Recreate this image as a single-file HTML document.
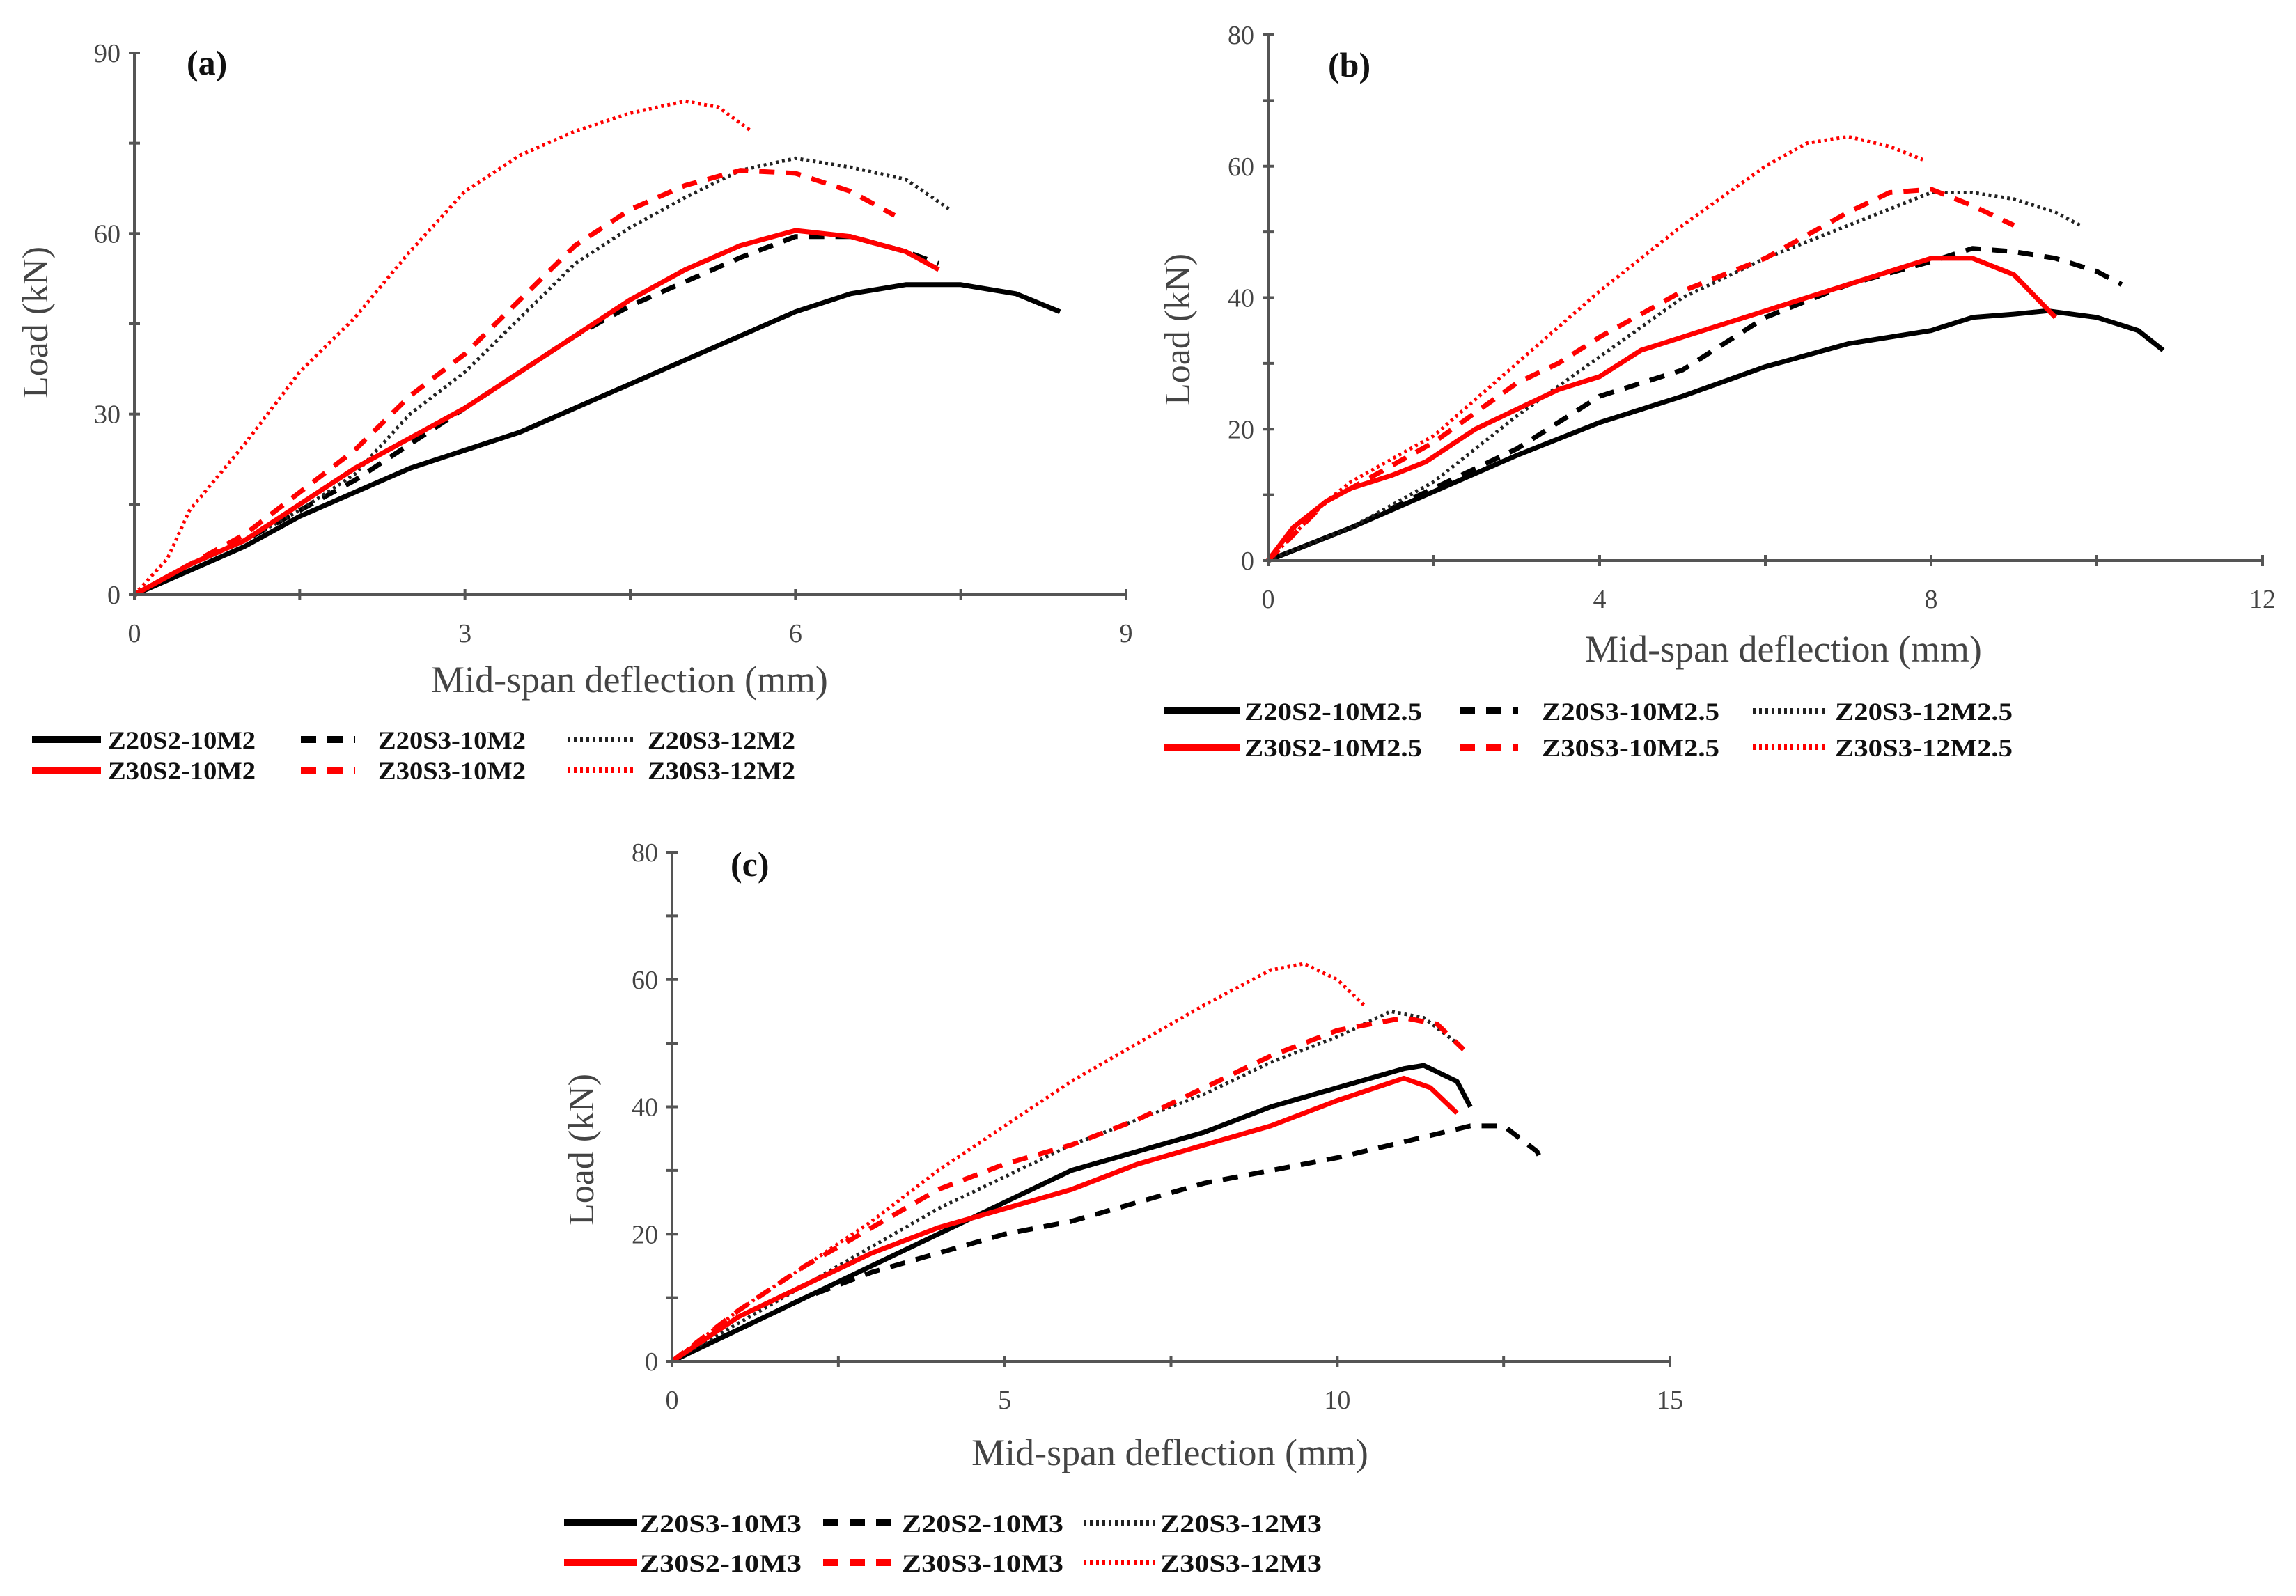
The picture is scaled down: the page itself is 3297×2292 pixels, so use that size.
<!DOCTYPE html>
<html><head><meta charset="utf-8">
<style>
html,body{margin:0;padding:0;background:#fff;}
svg{display:block;}
text{font-family:"Liberation Serif","Times New Roman",serif;}
</style></head>
<body>
<svg id="fig" xmlns="http://www.w3.org/2000/svg" width="3297" height="2292" viewBox="0 0 3297 2292">
<rect width="3297" height="2292" fill="#fff"/>
</svg>
<script>
// ---------- Panel (a) data ----------
const aTicksX = [0, 3, 6, 9];
const aTicksY = [0, 30, 60, 90];
const aLabels = ["Z20S2-10M2","Z20S3-10M2","Z20S3-12M2","Z30S2-10M2","Z30S3-10M2","Z30S3-12M2"];
const a1x = [0,0.5,1,1.5,2,2.5,3,3.5,4,4.5,5,5.5,6,6.5,7,7.5,8,8.4];
const a1y = [0,4,8,13,17,21,24,27,31,35,39,43,47,50,51.5,51.5,50,47];
const a2x = [0,0.5,1,1.5,2,2.5,3,3.5,4,4.5,5,5.5,6,6.5,7,7.3];
const a2y = [0,5,9,14,19,25,31,37,43,48,52,56,59.5,59.5,57,55];
const a3x = [0,0.5,1,1.5,2,2.5,3,3.5,4,4.5,5,5.5,6,6.5,7,7.4];
const a3y = [0,5,9,14,20,30,37,46,55,61,66,70.5,72.5,71,69,64];
const a4x = [0,0.5,1,1.5,2,2.5,3,3.5,4,4.5,5,5.5,6,6.5,7,7.3];
const a4y = [0,5,9,15,21,26,31,37,43,49,54,58,60.5,59.5,57,54];
const a5x = [0,0.5,1,1.5,2,2.5,3,3.5,4,4.5,5,5.5,6,6.5,6.9];
const a5y = [0,5,10,17,24,33,40,49,58,64,68,70.5,70,67,63];
const a6x = [0,0.3,0.5,1,1.5,2,2.5,3,3.5,4,4.5,5,5.3,5.6];
const a6y = [0,6,14,25,37,46,57,67,73,77,80,82,81,77];

// ---------- Panel (b) data ----------
const bTicksX = [0, 4, 8, 12];
const bTicksY = [0, 20, 40, 60, 80];
const bLabels = ["Z20S2-10M2.5","Z20S3-10M2.5","Z20S3-12M2.5","Z30S2-10M2.5","Z30S3-10M2.5","Z30S3-12M2.5"];
const b1x = [0,1,2,3,4,5,6,7,8,8.5,9,9.4,10,10.5,10.8];
const b1y = [0,5,10.5,16,21,25,29.5,33,35,37,37.5,38,37,35,32];
const b2x = [0,1,2,3,4,5,6,7,8,8.5,9,9.5,10,10.3];
const b2y = [0,5,11,17,25,29,37,42,45.5,47.5,47,46,44,42];
const b3x = [0,1,2,3,4,5,6,7,8,8.5,9,9.5,9.8];
const b3y = [0,5,12,22,31,40,46,51,56,56,55,53,51];
const b4x = [0,0.3,0.7,1,1.5,1.9,2.5,3,3.5,4,4.5,5,6,7,8,8.5,9,9.5];
const b4y = [0,5,9,11,13,15,20,23,26,28,32,34,38,42,46,46,43.5,37];
const b5x = [0,0.7,1,2,3,3.5,4,5,6,7,7.5,8,8.5,9];
const b5y = [0,9,11,18,27,30,34,41,46,53,56,56.5,54,51];
const b6x = [0,0.7,1,2,3,4,5,6,6.5,7,7.5,7.9];
const b6y = [0,9,12,19,30,41,51,60,63.5,64.5,63,61];

// ---------- Panel (c) data ----------
const cTicksX = [0, 5, 10, 15];
const cTicksY = [0, 20, 40, 60, 80];
const cLabels = ["Z20S3-10M3","Z20S2-10M3","Z20S3-12M3","Z30S2-10M3","Z30S3-10M3","Z30S3-12M3"];
const c1x = [0,1,2,3,4,5,6,7,8,9,10,11,11.3,11.8,12];
const c1y = [0,5,10,15,20,25,30,33,36,40,43,46,46.5,44,40];
const c2x = [0,1,2,3,4,5,6,7,8,9,10,11,12,12.5,13,13.1];
const c2y = [0,5,10,14,17,20,22,25,28,30,32,34.5,37,37,33,31];
const c3x = [0,1,2,3,4,5,6,7,8,9,10,10.8,11.3,11.8];
const c3y = [0,6,12,18,24,29,34,38,42,47,51,55,54,50];
const c4x = [0,1,2,3,4,5,6,7,8,9,10,11,11.4,11.8];
const c4y = [0,7,12,17,21,24,27,31,34,37,41,44.5,43,39];
const c5x = [0,1,2,3,4,5,6,7,8,9,10,11,11.5,11.9];
const c5y = [0,8,15,21,27,31,34,38,43,48,52,54,53,49];
const c6x = [0,1,2,3,4,5,6,7,8,9,9.5,10,10.4];
const c6y = [0,8,15,22,30,37,44,50,56,61.5,62.5,60,56];

const NS = "http://www.w3.org/2000/svg";
const svg = document.getElementById("fig");
const STY = [
  {c:"#000", d:"", w:7},
  {c:"#000", d:"22 16", w:7},
  {c:"#222", d:"4 5", w:5},
  {c:"#ff0000", d:"", w:7},
  {c:"#ff0000", d:"22 16", w:7},
  {c:"#ff0000", d:"4 5", w:5}
];
function mk(tag, attrs, parent){
  const e = document.createElementNS(NS, tag);
  for (const k in attrs) e.setAttribute(k, attrs[k]);
  (parent||svg).appendChild(e);
  return e;
}
function panel(cfg){
  const g = mk("g", {});
  
  
  const xMax = cfg.tx[cfg.tx.length-1], yMax = cfg.ty[cfg.ty.length-1];
  const X = v => cfg.x0 + (cfg.x1 - cfg.x0) * v / xMax;
  const Y = v => cfg.y0 - (cfg.y0 - cfg.y1) * v / yMax;
  cfg.series.forEach((s, i) => {
    let d = "";
    s[0].forEach((xv, j) => { d += (j ? "L" : "M") + X(xv).toFixed(1) + "," + Y(s[1][j]).toFixed(1); });
    const p = mk("path", {d:d, fill:"none", stroke:STY[i].c, "stroke-width":STY[i].w, "stroke-dasharray":STY[i].d, "stroke-linejoin":"round"}, g);
    
    
  });
  const ax = mk("line", {x1:cfg.x0, y1:cfg.y0, x2:cfg.x1, y2:cfg.y0, stroke:"#555", "stroke-width":4}, g);
  
  
  const ay = mk("line", {x1:cfg.x0, y1:cfg.y0, x2:cfg.x0, y2:cfg.y1, stroke:"#555", "stroke-width":4}, g);
  
  
  const sx = cfg.tx[1] - cfg.tx[0], sy = cfg.ty[1] - cfg.ty[0];
  for (let v = 0; v <= xMax + 1e-9; v += sx/2){
    mk("line", {x1:X(v), y1:cfg.y0-8, x2:X(v), y2:cfg.y0+8, stroke:"#555", "stroke-width":4}, g);
  }
  for (let v = 0; v <= yMax + 1e-9; v += sy/2){
    mk("line", {x1:cfg.x0-8, y1:Y(v), x2:cfg.x0+8, y2:Y(v), stroke:"#555", "stroke-width":4}, g);
  }
  cfg.tx.forEach(v => {
    const t = mk("text", {x:X(v), y:cfg.y0+68, "text-anchor":"middle", "font-size":38, fill:"#444"}, g);
    t.textContent = v;
    
    
  });
  cfg.ty.forEach(v => {
    const t = mk("text", {x:cfg.x0-20, y:Y(v)+13, "text-anchor":"end", "font-size":38, fill:"#444"}, g);
    t.textContent = v;
    
    
  });
  const pl = mk("text", {x:cfg.lx, y:cfg.ly, "font-size":50, "font-weight":"bold", fill:"#111"}, g);
  pl.textContent = "(" + cfg.id + ")";
  
  
  const xt = mk("text", {x:cfg.xtx, y:cfg.xty, "text-anchor":"middle", "font-size":54, fill:"#444"}, g);
  xt.textContent = "Mid-span deflection (mm)";
  
  
  const yt = mk("text", {x:0, y:0, "text-anchor":"middle", "font-size":52, fill:"#444", transform:"translate(" + cfg.ytx + "," + cfg.yty + ") rotate(-90)"}, g);
  yt.textContent = "Load (kN)";
  
  
  cfg.labels.forEach((lab, i) => {
    const col = i % 3, row = Math.floor(i / 3);
    const yy = cfg.legRows[row];
    const c = cfg.legCols[col];
    const le = mk("g", {}, g);
    
    
    mk("line", {x1:c[0], y1:yy, x2:c[1], y2:yy, stroke:STY[i].c, "stroke-width":STY[i].w + 3, "stroke-dasharray":STY[i].d}, le);
    const t = mk("text", {x:c[2], y:yy+13, "font-size":36, "font-weight":"bold", fill:"#111", textLength:cfg.legW, lengthAdjust:"spacingAndGlyphs"}, le);
    t.textContent = lab;
  });
}
panel({id:"a", x0:193, x1:1617, y0:854, y1:76, tx:aTicksX, ty:aTicksY, labels:aLabels,
  series:[[a1x,a1y],[a2x,a2y],[a3x,a3y],[a4x,a4y],[a5x,a5y],[a6x,a6y]],
  lx:268, ly:107, xtx:904, xty:994, ytx:68, yty:463,
  legRows:[1062,1106], legCols:[[46,145,155],[432,510,543],[815,914,930]], legW:212});
panel({id:"b", x0:1821, x1:3249, y0:805, y1:50, tx:bTicksX, ty:bTicksY, labels:bLabels,
  series:[[b1x,b1y],[b2x,b2y],[b3x,b3y],[b4x,b4y],[b5x,b5y],[b6x,b6y]],
  lx:1907, ly:110, xtx:2561, xty:950, ytx:1708, yty:473,
  legRows:[1021,1073], legCols:[[1672,1781,1787],[2096,2180,2214],[2517,2622,2635]], legW:255});
panel({id:"c", x0:965, x1:2398, y0:1955, y1:1224, tx:cTicksX, ty:cTicksY, labels:cLabels,
  series:[[c1x,c1y],[c2x,c2y],[c3x,c3y],[c4x,c4y],[c5x,c5y],[c6x,c6y]],
  lx:1049, ly:1258, xtx:1680, xty:2104, ytx:852, yty:1651,
  legRows:[2187,2244], legCols:[[810,915,919],[1182,1283,1295],[1556,1661,1666]], legW:232});
</script>
</body></html>
